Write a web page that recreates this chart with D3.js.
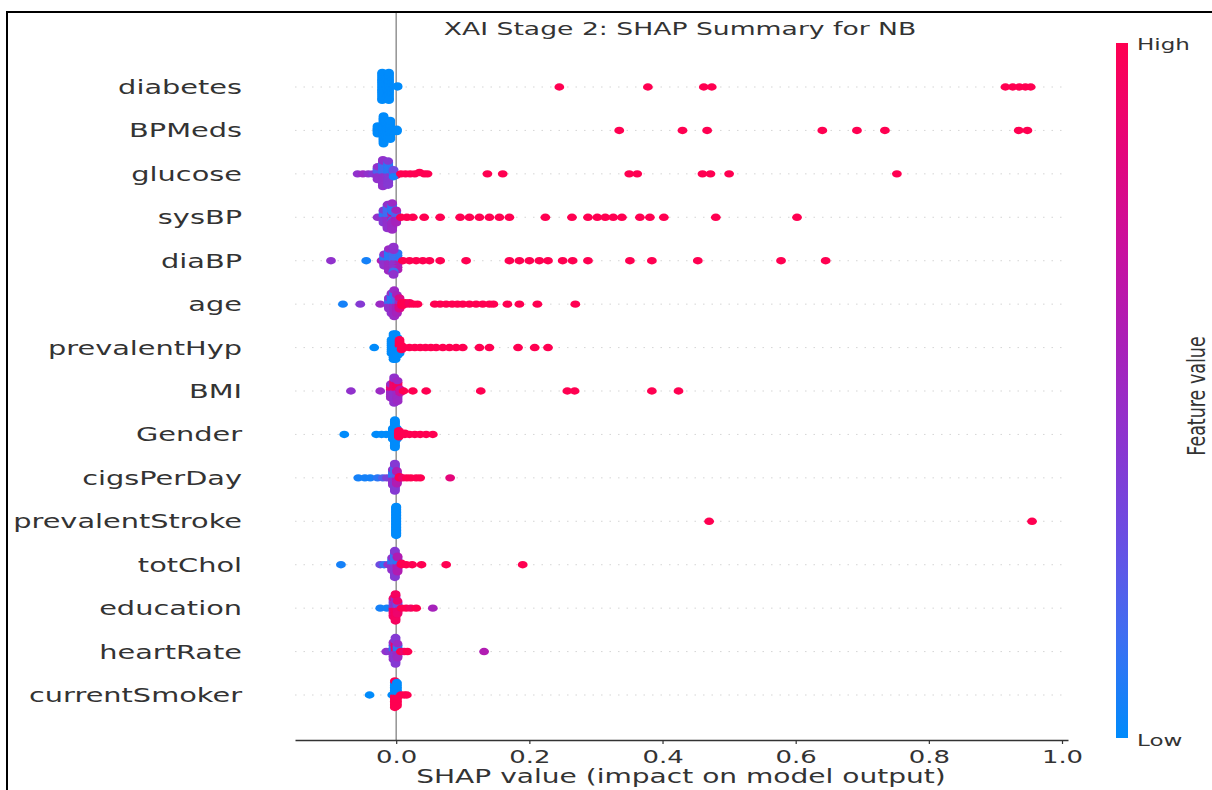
<!DOCTYPE html>
<html><head><meta charset="utf-8">
<script src="https://cdn.jsdelivr.net/npm/d3@7"></script>
<style>
body{margin:0;background:#fff;}
svg{display:block;}
text{font-family:"DejaVu Sans",sans-serif;fill:#333;}
</style>
</head><body>
<svg id="c" width="1212" height="790"></svg>
<script>
// ---------- data ----------
const features = ["diabetes","BPMeds","glucose","sysBP","diaBP","age","prevalentHyp","BMI","Gender","cigsPerDay","prevalentStroke","totChol","education","heartRate","currentSmoker"];
const xTicks = [0.0, 0.2, 0.4, 0.6, 0.8, 1.0];
const titleText = "XAI Stage 2: SHAP Summary for NB";
const xLabelText = "SHAP value (impact on model output)";
const colorbarLabels = ["High", "Low", "Feature value"];

// each entry: [shap value, feature value (0 low .. 1 high), number of samples]
const ptsDiabetes = [[-0.021,0,26],[-0.011,0,26],[0.002,0,2],
  [0.245,1,1],[0.378,1,1],[0.462,1,1],[0.474,1,1],[0.915,1,1],[0.926,1,1],[0.936,1,1],[0.945,1,1],[0.953,1,1]];
const ptsBPMeds = [[-0.028,0,8],[-0.019,0,26],[-0.009,0,18],[0.001,0,3],
  [0.335,1,1],[0.43,1,1],[0.467,1,1],[0.64,1,1],[0.692,1,1],[0.734,1,1],[0.935,1,1],[0.948,1,1]];
const ptsGlucose = [[-0.058,0.45,1],[-0.05,0.5,1],[-0.042,0.45,1],[-0.035,0.4,1],
  [-0.028,0.45,6],[-0.028,0.2,4],[-0.02,0.45,12],[-0.02,0.15,8],[-0.012,0.4,10],[-0.012,0.1,8],[-0.004,0.3,3],[-0.004,0.05,2],
  [0.0,0.9,1],[0.007,1,1],[0.014,1,1],[0.021,1,1],[0.028,1,1],[0.035,1,1],[0.042,1,1],[0.047,1,1],
  [0.137,1,1],[0.16,1,1],[0.35,1,1],[0.362,1,1],[0.46,1,1],[0.472,1,1],[0.5,1,1],[0.752,1,1]];
const ptsSysBP = [[-0.028,0.45,1],
  [-0.019,0.4,6],[-0.019,0.1,4],[-0.013,0.45,10],[-0.013,0.15,8],[-0.006,0.5,10],[-0.006,0.1,8],[-0.006,0.8,2],[0.0,0.55,6],[0.0,0.2,4],
  [0.007,1,1],[0.016,1,1],[0.025,1,1],[0.042,1,1],[0.066,1,1],[0.096,1,1],[0.11,1,1],[0.125,1,1],[0.14,1,1],[0.155,1,1],[0.17,1,1],
  [0.224,1,1],[0.264,1,1],[0.288,1,1],[0.302,1,1],[0.314,1,1],[0.326,1,1],[0.339,1,1],[0.366,1,1],[0.381,1,1],[0.402,1,1],[0.48,1,1],[0.602,1,1]];
const ptsDiaBP = [[-0.098,0.45,1],[-0.045,0.05,1],[-0.022,0.6,1],
  [-0.018,0.45,6],[-0.018,0.1,4],[-0.011,0.5,10],[-0.011,0.1,8],[-0.004,0.45,10],[-0.004,0.15,6],[0.002,0.6,4],[0.002,0.1,3],
  [0.01,1,1],[0.02,1,1],[0.03,1,1],[0.04,1,1],[0.05,1,1],[0.066,1,1],[0.105,1,1],[0.17,1,1],[0.185,1,1],[0.2,1,1],[0.215,1,1],[0.228,1,1],
  [0.25,1,1],[0.265,1,1],[0.288,1,1],[0.351,1,1],[0.384,1,1],[0.453,1,1],[0.578,1,1],[0.645,1,1]];
const ptsAge = [[-0.08,0.05,1],[-0.054,0.4,1],[-0.024,0.5,1],
  [-0.011,0.45,5],[-0.011,0.15,3],[-0.007,0.45,8],[-0.007,0.1,6],[-0.003,0.5,10],[-0.003,0.1,8],[0.001,0.55,8],[0.001,0.2,5],[0.005,0.8,5],[0.005,0.5,3],
  [0.009,1,3],[0.014,1,2],[0.02,0.95,2],[0.026,1,1],[0.032,1,1],
  [0.058,1,1],[0.066,1,1],[0.075,1,1],[0.084,1,1],[0.092,1,1],[0.1,1,1],[0.11,1,1],[0.12,1,1],[0.13,1,1],[0.14,1,1],[0.146,1,1],
  [0.167,1,1],[0.185,1,1],[0.212,1,1],[0.269,1,1]];
const ptsPrevalentHyp = [[-0.033,0,1],
  [-0.007,0,8],[-0.004,0,14],[-0.001,0,14],[0.002,0,10],[0.005,0,4],[0.005,1,4],[0.008,1,3],
  [0.012,1,1],[0.02,1,1],[0.028,1,1],[0.036,1,1],[0.044,1,1],[0.052,1,1],[0.06,1,1],[0.07,1,1],[0.08,1,1],[0.09,1,1],[0.1,1,1],
  [0.125,1,1],[0.14,1,1],[0.183,1,1],[0.208,1,1],[0.228,1,1]];
const ptsBMI = [[-0.068,0.45,1],[-0.024,0.5,1],
  [-0.008,0.5,6],[-0.008,0.85,3],[-0.003,0.45,10],[-0.003,0.9,6],[0.002,0.5,8],[0.002,0.95,5],[0.006,0.7,3],
  [0.011,1,1],[0.025,1,1],[0.045,1,1],[0.127,1,1],[0.257,1,1],[0.268,1,1],[0.384,1,1],[0.424,1,1]];
const ptsGender = [[-0.078,0,1],[-0.03,0,1],[-0.022,0,1],[-0.015,0,1],
  [-0.005,0,10],[-0.002,0,24],[0.001,0,10],
  [0.004,1,6],[0.008,1,2],[0.013,1,2],[0.02,1,1],[0.028,1,1],[0.036,1,1],[0.045,1,1],[0.055,1,1]];
const ptsCigsPerDay = [[-0.057,0.05,1],[-0.047,0.05,1],[-0.039,0.05,1],[-0.028,0.1,1],[-0.02,0.2,1],[-0.014,0.35,1],
  [-0.005,0.45,8],[-0.005,0.1,6],[-0.002,0.4,14],[-0.002,0.15,10],[0.001,0.6,8],[0.001,0.2,4],
  [0.005,1,2],[0.01,0.9,1],[0.016,1,1],[0.022,1,1],[0.03,1,1],[0.036,1,1],[0.081,0.85,1]];
const ptsPrevalentStroke = [[0.0,0,40],[0.47,1,1],[0.955,1,1]];
const ptsTotChol = [[-0.083,0.05,1],[-0.024,0.3,1],[-0.018,0.1,1],[-0.012,0.45,1],
  [-0.006,0.45,6],[-0.006,0.1,4],[-0.002,0.4,12],[-0.002,0.15,8],[0.002,0.6,8],[0.002,0.1,4],
  [0.008,1,2],[0.015,1,1],[0.024,1,1],[0.038,1,1],[0.075,1,1],[0.19,1,1]];
const ptsEducation = [[-0.024,0.05,1],[-0.014,0.05,1],
  [-0.004,0.9,8],[-0.004,0.4,6],[-0.001,0.95,12],[-0.001,0.5,8],[0.002,0.9,6],[0.002,0.3,4],
  [0.008,1,1],[0.015,1,1],[0.022,0.95,1],[0.03,1,1],[0.055,0.55,1]];
const ptsHeartRate = [[-0.015,0.45,1],[-0.01,0.4,1],
  [-0.004,0.45,8],[-0.004,0.1,4],[-0.001,0.4,12],[-0.001,0.9,6],[0.002,0.5,6],[0.002,0.1,4],
  [0.007,1,1],[0.012,0.9,1],[0.017,1,1],[0.132,0.6,1]];
const ptsCurrentSmoker = [[-0.04,0,1],[-0.006,0,1],
  [-0.002,1,10],[-0.002,0,8],[0.001,1,8],[0.001,0,8],
  [0.007,1,1],[0.012,1,1],[0.016,1,1]];

const featurePoints = [ptsDiabetes, ptsBPMeds, ptsGlucose, ptsSysBP, ptsDiaBP, ptsAge, ptsPrevalentHyp, ptsBMI, ptsGender, ptsCigsPerDay, ptsPrevalentStroke, ptsTotChol, ptsEducation, ptsHeartRate, ptsCurrentSmoker];

// colour map stops (low -> high), SHAP red/blue style
const colorStops = ["#008bfb", "#3d6ff2", "#6a4ee3", "#8c34cf", "#ab1fb8", "#cb0f9c", "#e60578", "#ff0051"];

// ---------- drawing ----------
const SX = 1.44; // horizontal stretch of the original picture
const svg = d3.select("#c");

svg.append("rect").attr("x", 7).attr("y", 12).attr("width", 1400).attr("height", 900)
  .attr("fill", "#fff").attr("stroke", "#000").attr("stroke-width", 2);

const x = d3.scaleLinear().domain([-0.152, 1.009]).range([295, 1068]);
const y = d3.scalePoint().domain(features).range([87, 695]);
const rowStep = y.step();
const color = d3.scaleSequential(d3.piecewise(d3.interpolateRgb, colorStops)).domain([0, 1]);

function stretchedText(g, tx, ty, str, size, anchor) {
  return g.append("text")
    .attr("transform", `translate(${tx},${ty}) scale(${SX},1)`)
    .attr("text-anchor", anchor)
    .attr("font-size", size)
    .text(str);
}

// dotted row guides
svg.append("g").selectAll("line").data(features).join("line")
  .attr("x1", x.range()[0]).attr("x2", x.range()[1])
  .attr("y1", d => y(d)).attr("y2", d => y(d))
  .attr("stroke", "#d0d0d0").attr("stroke-width", 0.9).attr("stroke-dasharray", "1.5,7");

// zero line
svg.append("line").attr("x1", x(0)).attr("x2", x(0)).attr("y1", 13).attr("y2", 740)
  .attr("stroke", "#999").attr("stroke-width", 1.6);

// beeswarm
const dotG = svg.append("g");
features.forEach((f, i) => {
  const pts = [];
  featurePoints[i].forEach((d, ti) => {
    for (let k = 0; k < d[2]; k++) pts.push({ s: d[0], v: d[1], k, ti });
  });
  const mn = d3.min(pts, p => p.s), mx = d3.max(pts, p => p.s);
  pts.forEach(p => p.q = Math.round(100 * (p.s - mn) / (mx - mn + 1e-8)));
  pts.sort((a, b) => a.q - b.q || a.k - b.k || a.ti - b.ti);
  let layer = 0, last = -1;
  pts.forEach(p => {
    if (p.q !== last) layer = 0;
    p.ys = Math.ceil(layer / 2) * ((layer % 2) * 2 - 1);
    layer++; last = p.q;
  });
  const m = d3.max(pts, p => p.ys + 1);
  pts.forEach(p => p.ys *= 0.9 * 0.4 / m);
  dotG.append("g").selectAll("ellipse").data(pts).join("ellipse")
    .attr("cx", p => x(p.s))
    .attr("cy", p => y(f) - p.ys * rowStep)
    .attr("rx", 4.9).attr("ry", 3.7)
    .attr("fill", p => color(p.v));
});

// feature labels
const labG = svg.append("g");
features.forEach(f => stretchedText(labG, 242, y(f) + 7, f, 20, "end"));

// x axis
const axisG = svg.append("g").attr("transform", "translate(0,740)")
  .call(d3.axisBottom(x).tickValues(xTicks).tickFormat(d3.format(".1f")).tickSize(4).tickSizeOuter(0));
axisG.select(".domain").attr("stroke", "#333").attr("stroke-width", 1.4);
axisG.selectAll(".tick line").attr("stroke", "#333").attr("stroke-width", 1.2);
axisG.selectAll(".tick text")
  .attr("y", 23).attr("dy", null)
  .attr("transform", `scale(${SX},1)`)
  .attr("font-size", 18).attr("font-family", "DejaVu Sans").attr("fill", "#333");

stretchedText(svg, 681, 783, xLabelText, 19.5, "middle");
stretchedText(svg, 680, 35, titleText, 18.5, "middle");

// colorbar
const defs = svg.append("defs");
const grad = defs.append("linearGradient").attr("id", "cb")
  .attr("x1", 0).attr("y1", 1).attr("x2", 0).attr("y2", 0);
d3.range(0, 1.0001, 0.05).forEach(t => grad.append("stop").attr("offset", t).attr("stop-color", color(t)));
svg.append("rect").attr("x", 1116).attr("y", 43).attr("width", 12).attr("height", 695).attr("fill", "url(#cb)");
stretchedText(svg, 1137, 50, colorbarLabels[0], 16, "start");
stretchedText(svg, 1137, 746, colorbarLabels[1], 16, "start");
svg.append("text")
  .attr("transform", `translate(1205,396) scale(${SX},1) rotate(-90)`)
  .attr("text-anchor", "middle").attr("font-size", 17.5)
  .text(colorbarLabels[2]);
</script>
</body></html>
